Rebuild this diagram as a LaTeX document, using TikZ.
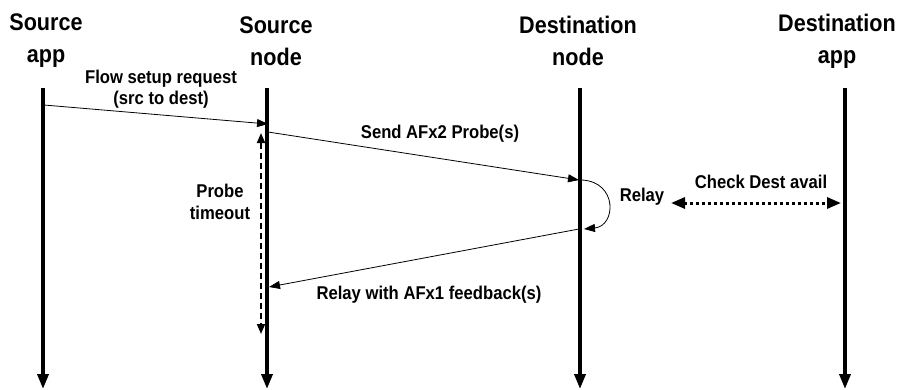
\documentclass[tikz,border=0pt]{standalone}
\usepackage{fontspec}
\setmainfont{Liberation Sans}[FakeStretch=0.9]
\usetikzlibrary{arrows.meta}
\begin{document}
\begin{tikzpicture}[x=1pt,y=-1pt,
  title/.style={font=\bfseries\fontsize{24}{32}\selectfont,align=center,inner sep=0pt},
  lbl/.style={font=\bfseries\fontsize{18.5}{21.5}\selectfont,align=center,inner sep=0pt},
  life/.style={line width=3.5pt,-{Triangle[length=15pt,width=11pt]}},
  msg/.style={line width=0.8pt,-{Triangle[length=11pt,width=8pt]}},
  tmo/.style={line width=1.8pt,dash pattern=on 6pt off 4pt,{Triangle[length=10pt,width=8pt]}-{Triangle[length=10pt,width=8pt]}},
  chk/.style={line width=3pt,dash pattern=on 3pt off 3pt,{Triangle[length=14pt,width=11pt]}-{Triangle[length=14pt,width=11pt]}}]
\useasboundingbox (0,0) rectangle (902,389);
% titles
\node[title] (t1) at (46,41) {Source\\app};
\node[title] (t2) at (276,41) {Source\\node};
\node[title] (t3) at (578,41) {Destination\\node};
\node[title] (t4) at (837,41) {Destination\\app};
% lifelines
\coordinate (a0) at (43,88);  \coordinate (a1) at (43,389);
\coordinate (b0) at (267,88); \coordinate (b1) at (267,389);
\coordinate (c0) at (580,88); \coordinate (c1) at (580,389);
\coordinate (d0) at (845,88); \coordinate (d1) at (845,389);
\draw[life] (a0) -- (a1);
\draw[life] (b0) -- (b1);
\draw[life] (c0) -- (c1);
\draw[life] (d0) -- (d1);
% messages
\coordinate (m1s) at (44,105);  \coordinate (m1e) at (268,124);
\coordinate (m2s) at (268,132); \coordinate (m2e) at (579,180);
\coordinate (rs) at (582,180);  \coordinate (re) at (584,229);
\coordinate (m3s) at (579,229); \coordinate (m3e) at (269,287);
\draw[msg] (m1s) -- (m1e);
\draw[msg] (m2s) -- (m2e);
\draw[msg] (rs) .. controls (618,182) and (616,226) .. (re);
\draw[msg] (m3s) -- (m3e);
\node[lbl] (l1) at (161,89) {Flow setup request\\(src to dest)};
\node[lbl] (l2) at (440,134) {Send AFx2 Probe(s)};
\node[lbl] (l3) at (642,197) {Relay};
\node[lbl] (l4) at (761,182) {Check Dest avail};
\node[lbl] (l5) at (429,295) {Relay with AFx1 feedback(s)};
\node[lbl] (l6) at (220,202) {Probe\\timeout};
% probe timeout
\coordinate (p0) at (261,133); \coordinate (p1) at (261,334);
\draw[tmo] (p0) -- (p1);
% check dest avail
\coordinate (k0) at (671,203); \coordinate (k1) at (841,203);
\draw[chk] (k0) -- (k1);
\end{tikzpicture}
\end{document}
